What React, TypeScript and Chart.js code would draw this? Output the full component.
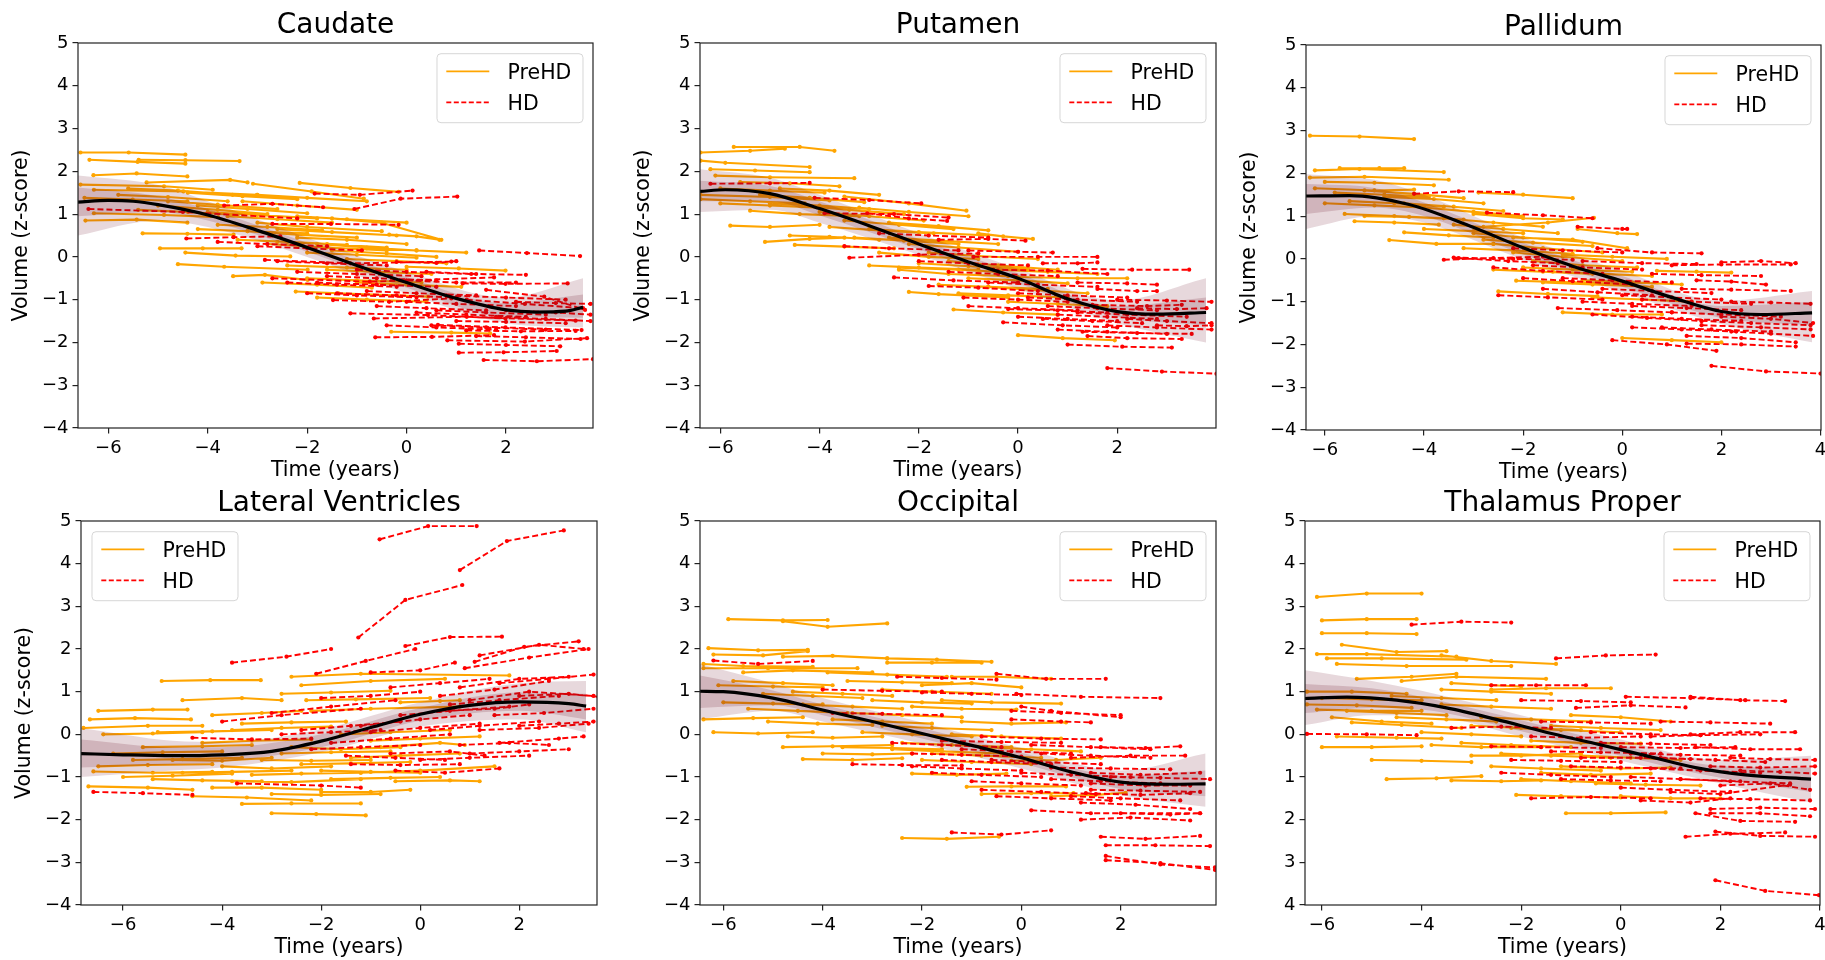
import React, { useEffect, useRef } from "react";
import { Chart, registerables } from "chart.js";
Chart.register(...registerables);
Chart.defaults.font.family = "'DejaVu Sans', sans-serif";
Chart.defaults.color = "#000";

// ---------- shared ticks ----------
const yTicks = [-4, -3, -2, -1, 0, 1, 2, 3, 4, 5];
const yTickLabels = ["−4", "−3", "−2", "−1", "0", "1", "2", "3", "4", "5"];
const yTickLabelsThalamus = ["4", "3", "2", "1", "0", "1", "2", "3", "4", "5"];
const xTicks = [-6, -4, -2, 0, 2];
const xTickLabels = ["−6", "−4", "−2", "0", "2"];
const xTicksWide = [-6, -4, -2, 0, 2, 4];
const xTickLabelsWide = ["−6", "−4", "−2", "0", "2", "4"];
const legendLabels = ["PreHD", "HD"];

// ---------- Caudate ----------
const caudateMeanX = [-6.61, -6, -5.5, -5, -4, -3, -2, -1, 0, 1, 2, 2.6, 3.2, 3.55];
const caudateMeanY = [1.28, 1.32, 1.3, 1.22, 0.98, 0.62, 0.22, -0.2, -0.6, -0.97, -1.24, -1.29, -1.27, -1.18];
const caudateBandX = [-6.61, -5, -4, -2, 0, 2, 3.55];
const caudateOuterLo = [0.5, 0.85, 0.7, 0.0, -0.85, -1.55, -1.65];
const caudateOuterHi = [1.9, 1.68, 1.3, 0.45, -0.35, -0.95, -0.5];
const caudateInnerLo = [0.95, 1.05, 0.85, 0.12, -0.72, -1.4, -1.42];
const caudateInnerHi = [1.62, 1.42, 1.12, 0.33, -0.47, -1.08, -0.88];
const caudatePreHD = [
  [-6.56, 2.44, -5.59, 2.44, -4.45, 2.39], [-6.38, 2.27, -5.41, 2.22, -4.45, 2.18], [-5.39, 2.27, -4.45, 2.26, -3.36, 2.24],
  [-6.3, 1.91, -5.43, 1.95, -4.41, 1.88], [-5.23, 1.74, -3.55, 1.8, -3.2, 1.74], [-2.15, 1.73, -1.13, 1.61, -0.16, 1.52],
  [-3.09, 1.71, -1.91, 1.53, -0.86, 1.36], [-6.56, 1.69, -4.88, 1.65, -3.9, 1.57], [-6.29, 1.57, -4.49, 1.53, -3.01, 1.45],
  [-6.48, 1.38, -5.51, 1.34, -4.41, 1.3], [-6.46, 0.85, -5.43, 0.87, -4.41, 0.8], [-6.29, 1.02, -4.88, 0.98, -3.79, 0.93],
  [-5.31, 0.55, -4.41, 0.54, -3.48, 0.52], [-4.96, 0.2, -4.1, 0.2, -3.32, 0.2], [-4.45, 0.1, -3.44, 0.03, -2.34, 0.01],
  [-4.6, -0.17, -3.67, -0.23, -1.99, -0.3], [-3.49, -0.45, -2.85, -0.42, -1.99, -0.54], [-0.31, -1.75, 0.9, -1.77, 1.68, -1.79],
  [0.0, -0.23, 1.05, -0.27, 1.99, -0.32], [-2.23, -0.81, -1.37, -0.85, 0.43, -0.93], [-4.2, 1.2, -3.2, 1.12, -2.0, 1.02],
  [-3.6, 0.95, -2.6, 0.88, -1.5, 0.8], [-3.0, 0.8, -2.0, 0.7, -0.5, 0.6], [-2.6, 0.65, -1.5, 0.58, -0.2, 0.5],
  [-2.2, 0.45, -1.2, 0.4, 0.0, 0.3], [-1.8, 0.3, -0.8, 0.22, 0.2, 0.15], [-1.5, 0.15, -0.4, 0.08, 0.6, 0.0],
  [-2.8, 0.3, -1.6, 0.22, -0.4, 0.15], [-1.2, -0.05, -0.2, -0.1, 0.8, -0.15], [-2.4, -0.2, -1.2, -0.25, 0.0, -0.3],
  [-3.4, 0.4, -2.4, 0.35, -1.2, 0.28], [-4.4, 1.5, -3.3, 1.42, -2.2, 1.35], [-5.0, 1.2, -3.8, 1.1, -2.8, 1.0],
  [-1.0, -0.6, 0.0, -0.65, 1.1, -0.7], [-3.3, 1.3, -2.2, 1.2, -1.0, 1.1], [-1.5, 0.9, -0.5, 0.8, 0.7, 0.4],
  [-0.35, 0.52, 0.2, 0.48, 0.66, 0.4], [-5.8, 1.45, -4.8, 1.4, -3.6, 1.3], [-2.0, -0.5, -1.0, -0.55, 0.3, -0.6],
  [-5.6, 1.6, -4.6, 1.55, -3.5, 1.45], [-4.8, 1.3, -3.8, 1.22, -2.6, 1.12], [-4.0, 1.05, -3.0, 0.98, -1.8, 0.9],
  [-3.8, 0.75, -2.8, 0.7, -1.7, 0.62], [-3.2, 0.6, -2.2, 0.52, -1.0, 0.45], [-2.6, 0.35, -1.6, 0.3, -0.4, 0.22],
  [-2.0, 0.1, -1.0, 0.05, 0.2, -0.02], [-1.6, -0.3, -0.6, -0.35, 0.5, -0.4], [-2.9, -0.6, -1.8, -0.65, -0.7, -0.72],
  [-4.2, 0.65, -3.2, 0.6, -2.0, 0.55], [-5.4, 1.1, -4.4, 1.05, -3.4, 0.98], [-3.0, 1.45, -2.0, 1.38, -0.8, 1.3],
  [-0.8, 0.2, 0.2, 0.15, 1.2, 0.1], [-2.2, 0.95, -1.2, 0.88, 0.0, 0.8], [-1.8, -0.95, -0.8, -1.0, 0.4, -1.05],
];
const caudateHD = [
  [-1.85, 1.48, -0.94, 1.45, 0.12, 1.55], [-1.05, 1.12, -0.12, 1.36, 1.02, 1.41], [-3.67, 1.2, -2.7, 1.24, -1.68, 1.16],
  [-6.4, 1.12, -4.5, 1.05, -2.2, 0.9], [-2.7, 0.77, -1.52, 0.77, -0.16, 0.75], [-4.43, 0.43, -3.48, 0.46, -2.54, 0.48],
  [1.46, 0.15, 2.42, 0.09, 3.49, 0.02], [-2.85, -0.07, -1.13, -0.15, 0.9, -0.11], [-2.7, -0.5, -0.74, -0.58, 1.76, -0.48],
  [1.13, -0.62, 1.99, -0.63, 3.24, -0.62], [-1.48, -1.01, -0.35, -1.05, 0.9, -0.97], [-1.13, -1.32, 0.43, -1.36, 1.99, -1.44],
  [-0.66, -1.44, 1.21, -1.4, 3.4, -1.49], [0.63, -1.59, 1.99, -1.65, 3.52, -1.71], [-0.63, -1.88, 0.51, -1.87, 1.76, -1.83],
  [0.82, -1.95, 2.38, -1.98, 3.63, -1.9], [1.05, -2.24, 1.95, -2.23, 3.02, -2.2], [1.55, -2.41, 2.62, -2.44, 3.75, -2.39],
  [1.05, -2.03, 2.0, -2.06, 3.09, -2.09], [1.21, -1.0, 2.38, -1.1, 3.55, -1.2], [1.6, -0.77, 2.77, -0.93, 3.59, -1.24],
  [1.2, -1.72, 2.3, -1.74, 3.4, -1.73], [-2.6, -0.1, -1.6, -0.15, -0.4, -0.2], [-2.2, -0.35, -1.0, -0.4, 0.3, -0.45],
  [-1.8, -0.6, -0.6, -0.65, 0.6, -0.7], [-1.4, -0.85, -0.2, -0.9, 1.0, -0.95], [-0.6, -1.15, 0.4, -1.2, 1.6, -1.25],
  [0.2, -1.3, 1.2, -1.35, 2.4, -1.4], [-3.0, 0.25, -2.0, 0.2, -0.9, 0.15], [-3.8, 0.35, -2.8, 0.3, -1.6, 0.25],
  [0.0, -0.55, 1.0, -0.6, 2.2, -0.6], [0.8, -0.9, 2.0, -0.95, 3.2, -1.0], [2.0, -1.25, 3.0, -1.3, 3.7, -1.35],
  [-1.0, -0.3, 0.0, -0.35, 1.3, -0.4], [0.5, -1.6, 1.6, -1.65, 2.8, -1.7], [-0.2, -0.12, 0.6, -0.14, 1.0, -0.1],
  [-2.4, -0.6, -1.4, -0.65, -0.2, -0.7], [-1.6, -0.45, -0.6, -0.5, 0.6, -0.55], [-0.8, -0.8, 0.2, -0.85, 1.4, -0.9],
  [0.0, -1.05, 1.0, -1.1, 2.2, -1.15], [0.6, -1.25, 1.6, -1.3, 2.8, -1.35], [1.0, -1.5, 2.0, -1.52, 3.2, -1.55],
  [1.8, -1.4, 2.8, -1.45, 3.7, -1.5], [-0.4, -1.6, 0.6, -1.65, 1.8, -1.7], [1.4, -1.85, 2.4, -1.88, 3.5, -1.92],
  [-2.0, -0.85, -1.0, -0.9, 0.2, -0.95], [2.2, -1.05, 3.0, -1.08, 3.7, -1.1], [0.4, -0.35, 1.4, -0.4, 2.4, -0.42],
];

// ---------- Putamen ----------
const putamenMeanX = [-6.41, -5.9, -5, -4, -3, -2, -1, 0, 1, 2, 2.8, 3.79];
const putamenMeanY = [1.53, 1.57, 1.48, 1.13, 0.73, 0.3, -0.12, -0.5, -0.98, -1.28, -1.34, -1.3];
const putamenBandX = [-6.41, -5, -4, -2, 0, 2, 3.79];
const putamenOuterLo = [1.05, 1.1, 0.8, 0.05, -0.75, -1.55, -2.0];
const putamenOuterHi = [2.05, 1.85, 1.45, 0.55, -0.28, -1.02, -0.5];
const putamenInnerLo = [1.3, 1.3, 0.97, 0.18, -0.62, -1.4, -1.6];
const putamenInnerHi = [1.78, 1.66, 1.3, 0.42, -0.38, -1.15, -0.95];
const putamenPreHD = [
  [-6.4, 2.44, -5.4, 2.48, -4.7, 2.53], [-5.73, 2.57, -4.4, 2.57, -3.7, 2.48], [-6.4, 2.25, -5.9, 2.2, -4.2, 2.1],
  [-6.2, 2.05, -5.3, 2.02, -4.2, 1.98], [-6.1, 1.9, -5.0, 1.86, -3.3, 1.84], [-6.4, 1.45, -5.0, 1.4, -3.8, 1.32],
  [-6.4, 1.35, -5.4, 1.3, -4.3, 1.25], [-5.8, 0.73, -5.0, 0.7, -4.0, 0.75], [-5.1, 0.35, -4.2, 0.42, -3.5, 0.45],
  [-4.6, 0.5, -3.8, 0.47, -2.8, 0.4], [-4.5, 0.28, -3.5, 0.24, -2.5, 0.2], [-5.4, 1.08, -4.4, 1.0, -3.2, 0.95],
  [-3.5, 1.41, -2.2, 1.25, -1.04, 1.08], [-2.2, -0.82, -1.6, -0.87, -0.2, -0.95], [-1.3, -1.23, -0.3, -1.3, 0.8, -1.35],
  [0.0, -1.83, 0.9, -1.9, 1.95, -1.95], [0.0, -0.47, 1.2, -0.5, 2.2, -0.5], [-4.0, 1.05, -3.0, 0.95, -1.9, 0.85],
  [-3.5, 0.85, -2.4, 0.75, -1.3, 0.65], [-3.0, 0.65, -2.0, 0.58, -0.6, 0.5], [-2.6, 0.45, -1.6, 0.38, -0.4, 0.3],
  [-2.2, 0.3, -1.2, 0.22, 0.0, 0.12], [-1.8, 0.1, -0.8, 0.02, 0.4, -0.05], [-1.4, -0.1, -0.4, -0.2, 0.8, -0.3],
  [-2.4, -0.3, -1.4, -0.4, -0.2, -0.45], [-1.0, -0.5, 0.0, -0.55, 1.0, -0.62], [-0.6, -0.7, 0.4, -0.78, 1.4, -0.85],
  [-2.8, 0.1, -1.8, 0.0, -0.8, -0.05], [-3.2, 1.15, -2.2, 1.05, -1.0, 0.95], [-4.8, 1.6, -3.8, 1.55, -2.8, 1.45],
  [-6.0, 1.6, -5.0, 1.55, -3.9, 1.5], [-5.6, 1.75, -4.6, 1.72, -3.6, 1.65], [-2.4, -0.25, -1.2, -0.3, -0.4, -0.35],
  [-0.8, 0.55, -0.3, 0.48, 0.3, 0.42],
  [-5.2, 1.45, -4.2, 1.38, -3.1, 1.28], [-4.4, 1.2, -3.4, 1.1, -2.3, 1.0], [-3.8, 0.7, -2.8, 0.62, -1.7, 0.55],
  [-3.3, 0.45, -2.3, 0.38, -1.2, 0.3], [-2.0, -0.15, -1.0, -0.22, 0.2, -0.28], [-1.6, -0.65, -0.6, -0.7, 0.6, -0.75],
  [-1.2, -0.85, -0.2, -0.9, 1.0, -0.95], [-5.0, 1.25, -4.0, 1.2, -3.0, 1.12], [-6.0, 1.25, -5.0, 1.2, -4.0, 1.15],
  [-2.6, 0.8, -1.6, 0.72, -0.6, 0.62], [-0.4, -0.3, 0.6, -0.35, 1.6, -0.4], [-0.2, -1.05, 0.8, -1.1, 1.8, -1.15],
  [-3.0, -0.2, -2.0, -0.25, -0.8, -0.3],
];
const putamenHD = [
  [-6.2, 1.71, -5.0, 1.72, -4.2, 1.73], [-4.1, 1.38, -3.0, 1.33, -1.95, 1.25], [-3.9, 1.02, -2.5, 1.0, -1.4, 0.92],
  [-3.04, 1.02, -2.2, 0.9, -1.43, 0.84], [-1.6, 0.4, -0.6, 0.42, 0.15, 0.38], [-3.5, 0.25, -2.6, 0.2, -1.2, 0.15],
  [-3.4, -0.02, -2.0, 0.05, -0.8, 0.08], [-1.0, 0.15, 0.0, 0.12, 0.7, 0.1], [-0.9, 0.0, 0.4, 0.0, 1.6, 0.0],
  [0.5, -0.15, 1.2, -0.15, 1.6, -0.13], [1.3, -0.28, 2.3, -0.3, 3.45, -0.3], [1.2, -0.6, 2.2, -0.62, 2.8, -0.65],
  [1.6, -0.75, 2.4, -0.8, 2.8, -0.8], [-1.8, -0.68, -0.8, -0.72, 0.4, -0.8], [-2.5, -0.48, -1.3, -0.55, 0.0, -0.6],
  [-1.1, -0.95, 0.0, -1.0, 1.0, -1.05], [-0.2, -1.22, 0.8, -1.25, 1.8, -1.3], [0.5, -1.45, 1.5, -1.5, 2.5, -1.55],
  [1.5, -1.12, 2.6, -1.15, 3.3, -1.12], [-0.3, -1.53, 0.9, -1.6, 2.0, -1.65], [1.3, -1.75, 2.4, -1.78, 3.5, -1.8],
  [1.0, -2.05, 2.1, -2.1, 3.1, -2.12], [1.4, -1.85, 2.2, -1.9, 3.3, -1.92], [1.8, -2.6, 2.9, -2.68, 4.0, -2.73],
  [2.2, -1.45, 3.0, -1.5, 3.9, -1.55], [2.4, -1.2, 3.2, -1.22, 3.8, -1.2], [0.8, -1.35, 1.8, -1.4, 2.8, -1.45],
  [-0.5, -0.3, 0.6, -0.32, 1.8, -0.4], [2.8, -1.6, 3.4, -1.62, 3.9, -1.6], [0.0, -0.85, 1.0, -0.9, 2.2, -0.95],
  [-2.0, -0.1, -1.0, -0.15, 0.2, -0.2], [-1.4, -0.35, -0.4, -0.4, 0.8, -0.45], [-0.6, -0.6, 0.4, -0.65, 1.6, -0.7],
  [0.2, -0.95, 1.2, -1.0, 2.4, -1.05], [0.6, -1.15, 1.6, -1.2, 2.8, -1.25], [1.2, -1.3, 2.2, -1.35, 3.4, -1.4],
  [1.8, -1.6, 2.8, -1.65, 3.9, -1.7], [0.0, -1.4, 1.0, -1.45, 2.0, -1.5], [2.0, -1.0, 3.0, -1.02, 3.9, -1.05],
  [-2.8, 0.55, -1.8, 0.5, -0.6, 0.45], [0.8, -1.7, 1.8, -1.75, 3.0, -1.8], [-1.0, -1.15, 0.0, -1.2, 1.2, -1.25],
];

// ---------- Pallidum ----------
const pallidumMeanX = [-6.38, -5.5, -4.3, -3.1, -2, -1, 0, 1, 2, 2.8, 3.83];
const pallidumMeanY = [1.47, 1.48, 1.27, 0.78, 0.26, -0.17, -0.52, -0.9, -1.23, -1.3, -1.26];
const pallidumBandX = [-6.38, -5, -4, -2, 0, 2, 3.83];
const pallidumOuterLo = [0.7, 1.0, 0.85, -0.02, -0.78, -1.52, -1.95];
const pallidumOuterHi = [1.98, 1.85, 1.5, 0.5, -0.28, -0.98, -0.75];
const pallidumInnerLo = [1.05, 1.2, 1.0, 0.1, -0.65, -1.38, -1.55];
const pallidumInnerHi = [1.75, 1.66, 1.32, 0.38, -0.4, -1.1, -1.0];
const pallidumPreHD = [
  [-6.3, 2.88, -5.3, 2.86, -4.2, 2.8], [-6.2, 2.07, -5.3, 2.1, -3.6, 2.03], [-5.7, 2.12, -4.9, 2.12, -4.4, 2.12],
  [-6.3, 1.9, -5.2, 1.92, -3.5, 1.85], [-6.0, 1.8, -5.0, 1.78, -3.8, 1.72], [-6.2, 1.65, -5.0, 1.6, -4.2, 1.62],
  [-5.5, 1.35, -4.6, 1.3, -3.6, 1.22], [-5.2, 1.0, -4.3, 0.98, -3.2, 0.92], [-5.4, 0.88, -4.6, 0.85, -3.7, 0.8],
  [-4.7, 0.44, -3.75, 0.35, -2.6, 0.35], [-4.4, 0.62, -3.5, 0.55, -2.6, 0.5], [-2.9, 1.55, -2.0, 1.5, -1.0, 1.42],
  [-3.0, 1.05, -2.0, 0.95, -1.2, 0.92], [-2.8, 0.75, -1.5, 0.85, -0.57, 0.96], [-0.9, 0.7, -0.1, 0.6, 0.3, 0.58],
  [-2.2, 0.5, -1.0, 0.45, 0.1, 0.25], [-2.5, -0.76, -1.5, -0.82, -0.5, -0.87], [-1.2, -1.25, -0.2, -1.3, 0.8, -1.3],
  [0.0, -1.85, 1.0, -1.9, 2.0, -1.95], [0.7, -0.28, 1.5, -0.3, 2.2, -0.32], [-4.0, 1.2, -3.0, 1.1, -2.0, 1.0],
  [-3.6, 0.95, -2.6, 0.85, -1.6, 0.75], [-3.0, 0.6, -2.0, 0.5, -0.8, 0.4], [-2.6, 0.35, -1.6, 0.25, -0.4, 0.15],
  [-2.2, 0.15, -1.2, 0.05, 0.0, -0.05], [-1.8, -0.05, -0.8, -0.15, 0.3, -0.2], [-1.4, -0.3, -0.4, -0.35, 0.6, -0.4],
  [-2.6, -0.25, -1.6, -0.3, -0.6, -0.35], [-0.8, -0.5, 0.2, -0.55, 1.2, -0.6], [-4.8, 1.45, -3.8, 1.4, -2.8, 1.3],
  [-5.8, 1.55, -4.8, 1.5, -3.9, 1.45], [-2.14, -0.51, -1.0, -0.55, 0.2, -0.6],
  [-5.2, 1.6, -4.2, 1.52, -3.2, 1.42], [-4.4, 1.3, -3.4, 1.22, -2.4, 1.12], [-3.4, 0.8, -2.4, 0.7, -1.3, 0.6],
  [-2.8, 0.45, -1.8, 0.38, -0.6, 0.3], [-2.0, -0.2, -1.0, -0.25, 0.2, -0.3], [-1.6, -0.55, -0.6, -0.6, 0.6, -0.65],
  [-6.0, 1.3, -5.0, 1.25, -4.0, 1.2], [-5.6, 1.05, -4.6, 1.0, -3.6, 0.95], [-1.2, 0.1, -0.2, 0.05, 0.9, 0.0],
  [-3.2, 0.25, -2.2, 0.2, -1.0, 0.12], [-0.6, -0.9, 0.4, -0.95, 1.4, -1.0], [-4.0, 0.7, -3.0, 0.65, -2.0, 0.6],
];
const pallidumHD = [
  [-4.2, 1.52, -3.3, 1.58, -2.2, 1.56], [-2.73, 1.08, -1.6, 1.02, -0.6, 0.95], [-0.9, 0.75, 0.0, 0.7, 0.1, 0.7],
  [-3.6, -0.02, -2.6, 0.02, -1.6, 0.05], [-3.4, 0.03, -2.2, 0.0, -1.0, -0.02], [-0.5, 0.25, 0.6, 0.15, 1.6, 0.13],
  [2.0, -0.08, 2.8, -0.05, 3.5, -0.1], [1.0, -0.15, 2.0, -0.13, 3.4, -0.13], [1.5, -0.5, 2.2, -0.53, 2.9, -0.6],
  [-2.6, -0.2, -1.6, -0.28, -0.4, -0.35], [-2.0, -0.45, -1.0, -0.52, 0.2, -0.6], [-1.6, -0.7, -0.5, -0.78, 0.6, -0.85],
  [-1.3, -1.15, -0.1, -1.2, 1.0, -1.25], [-0.6, -1.3, 0.5, -1.38, 1.6, -1.45], [0.2, -1.1, 1.3, -1.15, 2.4, -1.2],
  [0.2, -1.6, 1.2, -1.65, 2.3, -1.7], [-0.2, -1.9, 0.9, -2.0, 1.9, -2.15], [1.3, -1.8, 2.4, -1.85, 3.5, -1.95],
  [1.6, -1.55, 2.8, -1.6, 3.8, -1.65], [2.0, -1.35, 3.0, -1.4, 3.85, -1.5], [1.3, -1.98, 2.4, -2.0, 3.5, -2.05],
  [1.8, -2.5, 2.9, -2.63, 4.0, -2.68], [2.2, -1.0, 3.0, -1.02, 3.8, -1.05], [0.0, -0.85, 1.0, -0.9, 2.0, -0.95],
  [-0.8, -0.05, 0.4, -0.1, 1.5, -0.12], [0.6, -0.35, 1.6, -0.38, 2.8, -0.4], [-3.3, 0.02, -2.3, -0.05, -1.3, -0.1],
  [-2.5, -0.85, -1.5, -0.9, -0.4, -0.95],
  [-1.8, -0.15, -0.8, -0.2, 0.4, -0.25], [-1.2, -0.45, -0.2, -0.5, 1.0, -0.55], [-0.4, -0.7, 0.6, -0.75, 1.8, -0.8],
  [0.4, -0.95, 1.4, -1.0, 2.6, -1.05], [1.0, -1.25, 2.0, -1.3, 3.2, -1.35], [1.6, -1.45, 2.6, -1.5, 3.8, -1.55],
  [0.2, -1.35, 1.2, -1.4, 2.4, -1.45], [-0.8, -1.0, 0.2, -1.05, 1.4, -1.1], [2.2, -1.7, 3.0, -1.75, 3.85, -1.8],
  [0.8, -1.6, 1.8, -1.65, 3.0, -1.7], [-2.2, 0.25, -1.2, 0.2, 0.0, 0.15], [1.2, -0.7, 2.2, -0.72, 3.4, -0.75],
];

// ---------- Lateral Ventricles ----------
const ventMeanX = [-6.85, -6, -5, -4, -3, -2, -1, 0, 1, 2, 3, 3.35];
const ventMeanY = [-0.45, -0.48, -0.5, -0.48, -0.4, -0.16, 0.16, 0.47, 0.68, 0.76, 0.72, 0.66];
const ventBandX = [-6.85, -5, -4, -2, 0, 2, 3.35];
const ventOuterLo = [-1.0, -0.85, -0.78, -0.42, 0.18, 0.35, 0.05];
const ventOuterHi = [0.15, -0.15, -0.18, 0.12, 0.75, 1.2, 1.25];
const ventInnerLo = [-0.78, -0.7, -0.65, -0.3, 0.32, 0.55, 0.35];
const ventInnerHi = [-0.12, -0.3, -0.3, 0.0, 0.62, 0.98, 0.95];
const ventPreHD = [
  [-6.67, 0.35, -5.76, 0.38, -4.63, 0.35], [-6.5, 0.55, -5.4, 0.58, -4.7, 0.58], [-6.8, 0.15, -5.5, 0.2, -4.4, 0.2],
  [-5.22, 1.25, -4.24, 1.27, -3.22, 1.27], [-4.8, 0.8, -3.6, 0.85, -2.8, 0.8], [-2.4, 1.15, -1.0, 1.25, 0.5, 1.3],
  [-2.6, 1.35, -1.2, 1.42, 1.8, 1.38], [-2.8, 0.95, -1.8, 0.98, -0.6, 1.02], [-2.3, 0.8, -1.3, 0.82, 0.2, 0.85],
  [-2.2, 0.55, -1.0, 0.6, 0.8, 0.65], [-4.2, 0.45, -3.2, 0.5, -2.4, 0.55], [-5.3, 0.05, -4.2, 0.07, -3.0, 0.1],
  [-6.5, -0.75, -5.5, -0.72, -4.2, -0.7], [-6.6, -0.87, -5.4, -0.9, -4.2, -0.88], [-6.0, -1.0, -5.0, -0.97, -3.8, -0.92],
  [-6.7, -1.22, -5.5, -1.25, -4.6, -1.3], [-4.6, -1.45, -3.5, -1.48, -2.2, -1.55], [-3.6, -1.63, -2.6, -1.62, -1.2, -1.62],
  [-3.0, -1.85, -2.1, -1.87, -1.1, -1.9], [-3.8, -1.1, -2.6, -1.12, -1.2, -1.05], [-4.2, -1.25, -3.2, -1.25, -2.0, -1.3],
  [-2.0, -1.35, -1.0, -1.35, -0.2, -1.3], [-0.5, -1.1, 0.6, -1.08, 1.2, -1.1], [-1.2, -0.9, 0.0, -0.85, 1.5, -0.75],
  [-0.8, -0.3, 0.4, -0.2, 0.9, -0.25], [-2.0, -0.85, -1.0, -0.88, 0.0, -0.9], [-3.2, -0.6, -2.2, -0.62, -1.0, -0.6],
  [-4.0, -0.75, -3.0, -0.8, -1.8, -0.75], [-2.6, -0.3, -1.6, -0.35, -0.4, -0.3], [-1.6, 0.0, -0.6, 0.05, 0.6, 0.1],
  [-5.6, -0.3, -4.4, -0.28, -3.4, -0.25], [-3.6, 0.25, -2.6, 0.28, -1.5, 0.3], [-0.4, 0.75, 0.4, 0.78, 0.8, 0.8],
  [-1.8, -1.05, -0.6, -1.02, 0.4, -1.0], [-5.0, -0.6, -4.0, -0.62, -3.0, -0.55],
  [-6.2, -0.45, -5.2, -0.42, -4.0, -0.4], [-5.8, -0.6, -4.8, -0.58, -3.6, -0.55], [-4.8, -0.9, -3.8, -0.88, -2.6, -0.85],
  [-3.4, -0.95, -2.4, -0.92, -1.2, -0.9], [-2.8, -0.45, -1.8, -0.42, -0.6, -0.4], [-2.4, -0.7, -1.4, -0.68, -0.2, -0.65],
  [-1.4, -0.55, -0.4, -0.5, 0.8, -0.45], [-3.0, -1.4, -2.0, -1.42, -0.8, -1.4], [-5.4, -1.05, -4.4, -1.08, -3.2, -1.1],
  [-4.4, -0.2, -3.4, -0.15, -2.2, -0.12], [-6.4, 0.0, -5.4, 0.02, -4.4, 0.05], [-1.0, -0.15, 0.0, -0.1, 1.2, -0.05],
  [-3.8, 0.1, -2.8, 0.15, -1.8, 0.18],
];
const ventHD = [
  [-0.82, 4.57, 0.16, 4.88, 1.14, 4.88], [0.8, 3.85, 1.75, 4.53, 2.9, 4.78], [-1.25, 2.27, -0.3, 3.15, 0.85, 3.5],
  [-3.8, 1.68, -2.7, 1.82, -1.8, 2.0], [-0.3, 2.07, 0.6, 2.28, 1.65, 2.29], [-2.1, 1.42, -1.1, 1.72, -0.1, 2.0],
  [1.1, 1.7, 2.1, 2.05, 3.2, 2.18], [1.2, 1.85, 2.4, 2.1, 3.3, 2.0], [0.9, 1.55, 2.2, 1.8, 3.4, 2.0],
  [-1.0, 1.45, 0.0, 1.5, 0.7, 1.68], [0.8, 1.1, 2.0, 1.3, 3.0, 1.35], [1.0, 0.8, 2.2, 1.0, 3.5, 0.9],
  [0.4, 0.55, 1.5, 0.6, 2.2, 0.7], [1.2, 0.1, 2.4, 0.15, 3.4, 0.25], [1.6, -0.2, 2.8, -0.1, 3.3, -0.05],
  [0.8, -0.25, 1.8, -0.2, 2.6, -0.25], [-6.6, -1.35, -5.6, -1.38, -4.6, -1.42], [-3.7, -1.15, -2.0, -1.2, -1.2, -1.25],
  [-4.6, -0.08, -3.4, -0.12, -2.2, -0.1], [-4.0, 0.3, -2.8, 0.45, -1.2, 0.6], [-3.0, 0.5, -1.8, 0.65, -0.5, 0.8],
  [-2.4, 0.1, -1.4, 0.2, -0.4, 0.3], [-1.8, -0.2, -0.6, -0.1, 0.6, 0.0], [-1.2, 0.2, 0.0, 0.35, 1.0, 0.45],
  [-0.6, -0.45, 0.6, -0.4, 1.3, -0.5], [-0.5, -0.85, 0.5, -0.9, 1.6, -0.8], [-1.5, -0.5, -0.5, -0.55, 0.5, -0.6],
  [0.4, 0.9, 1.5, 1.05, 2.6, 1.25], [-2.0, 0.85, -1.0, 0.9, 0.0, 1.0], [1.5, 0.45, 2.5, 0.5, 3.5, 0.6],
  [2.0, 0.9, 3.0, 0.95, 3.6, 0.88],
  [-1.0, 0.05, 0.0, 0.15, 1.2, 0.25], [-0.4, 0.45, 0.6, 0.55, 1.8, 0.65], [0.2, 0.1, 1.2, 0.2, 2.4, 0.3],
  [0.6, 0.7, 1.6, 0.8, 2.8, 0.9], [1.6, 1.2, 2.6, 1.3, 3.5, 1.4], [1.0, -0.45, 2.0, -0.4, 3.0, -0.35],
  [-2.2, -0.35, -1.2, -0.3, 0.0, -0.25], [-1.4, -0.7, -0.4, -0.72, 0.8, -0.7], [0.0, -0.6, 1.0, -0.55, 2.2, -0.5],
  [2.0, 0.2, 2.8, 0.25, 3.5, 0.3], [-0.6, 1.1, 0.4, 1.2, 1.4, 1.3], [-2.8, 0.0, -1.8, 0.05, -0.8, 0.1],
];

// ---------- Occipital ----------
const occMeanX = [-6.47, -6, -5, -4, -3, -2, -1, 0, 1, 2, 3, 3.71];
const occMeanY = [1.01, 1.0, 0.85, 0.57, 0.3, 0.02, -0.26, -0.55, -0.88, -1.12, -1.17, -1.16];
const occBandX = [-6.47, -5, -4, -2, 0, 2, 3.71];
const occOuterLo = [0.35, 0.55, 0.3, -0.22, -0.8, -1.42, -1.7];
const occOuterHi = [1.65, 1.2, 0.85, 0.28, -0.32, -0.85, -0.45];
const occInnerLo = [0.62, 0.68, 0.45, -0.1, -0.68, -1.28, -1.45];
const occInnerHi = [1.38, 1.03, 0.7, 0.15, -0.43, -0.97, -0.85];
const occPreHD = [
  [-5.9, 2.7, -4.8, 2.67, -3.9, 2.68], [-4.8, 2.65, -3.9, 2.52, -2.7, 2.6], [-6.3, 2.02, -5.3, 1.97, -4.3, 1.98],
  [-6.2, 1.87, -5.2, 1.85, -4.3, 1.95], [-4.8, 1.82, -3.8, 1.84, -2.7, 1.78], [-2.7, 1.78, -1.7, 1.75, -0.6, 1.7],
  [-2.7, 1.68, -1.8, 1.68, -0.8, 1.68], [-6.4, 1.65, -5.6, 1.6, -4.2, 1.58], [-6.4, 1.55, -5.1, 1.55, -3.3, 1.55],
  [-5.6, 1.45, -4.6, 1.5, -3.0, 1.45], [-3.9, 1.45, -2.7, 1.4, -1.5, 1.35], [-6.1, 1.15, -5.0, 1.12, -4.0, 1.1],
  [-3.5, 1.25, -2.4, 1.22, -1.4, 1.2], [-1.4, 1.35, -0.5, 1.35, 0.6, 1.3], [-2.0, 1.15, -1.0, 1.2, 0.0, 1.1],
  [-6.4, 0.35, -5.4, 0.38, -4.4, 0.4], [-6.2, 0.05, -5.3, 0.02, -4.2, 0.05], [-5.1, 0.3, -4.1, 0.25, -3.0, 0.22],
  [-4.7, -0.05, -3.8, -0.08, -2.8, -0.05], [-4.8, -0.3, -3.8, -0.28, -2.6, -0.25], [-4.4, -0.58, -3.4, -0.6, -2.4, -0.56],
  [-4.0, -0.45, -3.0, -0.47, -2.2, -0.45], [-2.2, -0.92, -1.3, -0.95, -0.3, -0.92], [-2.4, -2.43, -1.5, -2.45, -0.45, -2.4],
  [-1.1, -1.23, -0.2, -1.22, 0.9, -1.22], [-0.8, -1.4, 0.2, -1.38, 1.05, -1.38], [0.6, -1.45, 1.5, -1.42, 2.1, -1.37],
  [-2.2, 0.65, -1.2, 0.6, -0.1, 0.58], [-1.6, 0.8, -0.6, 0.75, 0.8, 0.72], [-3.0, 0.8, -2.0, 0.75, -1.0, 0.72],
  [-3.4, 0.5, -2.4, 0.45, -1.2, 0.4], [-2.8, 0.2, -1.8, 0.15, -0.6, 0.1], [-2.4, -0.2, -1.4, -0.25, -0.2, -0.3],
  [-1.8, -0.45, -0.8, -0.5, 0.4, -0.55], [-1.2, 0.3, -0.2, 0.25, 0.9, 0.28], [-0.2, -0.62, 0.7, -0.6, 1.6, -0.55],
  [-4.6, 1.0, -3.6, 0.95, -2.6, 0.9], [-5.5, 0.6, -4.5, 0.55, -3.5, 0.5],
  [-5.8, 1.25, -4.8, 1.2, -3.8, 1.15], [-5.2, 0.95, -4.2, 0.9, -3.2, 0.85], [-4.4, 0.7, -3.4, 0.65, -2.4, 0.6],
  [-3.8, 0.35, -2.8, 0.3, -1.8, 0.25], [-3.2, 0.05, -2.2, 0.0, -1.0, -0.05], [-2.6, -0.35, -1.6, -0.4, -0.4, -0.45],
  [-2.0, -0.6, -1.0, -0.65, 0.2, -0.7], [-6.0, 0.75, -5.0, 0.72, -4.0, 0.7], [-1.4, 0.0, -0.4, -0.05, 0.8, -0.1],
  [-0.8, -0.3, 0.2, -0.35, 1.2, -0.4], [-2.8, 1.05, -1.8, 1.0, -0.6, 0.95], [-3.6, -0.3, -2.6, -0.32, -1.6, -0.35],
];
const occHD = [
  [-6.2, 1.73, -5.3, 1.65, -4.2, 1.72], [-2.5, 1.35, -1.6, 1.32, -0.5, 1.28], [-0.5, 1.42, 0.5, 1.3, 1.7, 1.3],
  [-4.0, 1.05, -2.8, 1.02, -1.6, 1.0], [-2.0, 0.98, -1.0, 0.95, 0.0, 0.92], [-0.1, 0.95, 1.2, 0.88, 2.8, 0.85],
  [0.0, 0.65, 0.6, 0.55, 2.0, 0.4], [-0.2, 0.35, 0.8, 0.3, 1.4, 0.28], [-3.4, -0.7, -2.4, -0.72, -1.2, -0.73],
  [-2.2, -0.45, -1.2, -0.48, 0.0, -0.52], [-1.6, -0.15, -0.4, -0.18, 0.8, -0.2], [-0.8, -0.05, 0.4, -0.1, 1.6, -0.12],
  [0.2, -0.25, 1.4, -0.3, 2.6, -0.35], [1.6, -0.3, 2.5, -0.32, 3.2, -0.28], [1.0, -0.55, 2.2, -0.5, 3.3, -0.5],
  [0.6, -0.78, 1.8, -0.8, 3.0, -0.82], [1.4, -0.9, 2.4, -0.95, 3.6, -0.9], [-0.8, -1.3, 0.4, -1.35, 1.5, -1.4],
  [-0.5, -1.45, 0.6, -1.5, 1.8, -1.55], [1.4, -1.15, 2.5, -1.2, 3.4, -1.2], [1.3, -1.38, 2.4, -1.42, 3.4, -1.38],
  [1.2, -1.6, 2.3, -1.65, 3.4, -1.75], [0.2, -1.78, 1.4, -1.85, 3.6, -1.85], [1.2, -2.0, 2.2, -1.95, 3.4, -2.02],
  [-1.4, -2.3, -0.4, -2.35, 0.6, -2.25], [1.6, -2.4, 2.5, -2.45, 3.6, -2.38], [1.7, -2.6, 2.7, -2.6, 3.8, -2.62],
  [1.7, -2.85, 2.8, -3.05, 3.9, -3.12], [1.7, -2.95, 2.8, -3.02, 3.9, -3.18], [-2.2, -0.75, -1.2, -0.8, 0.0, -0.85],
  [-1.6, -0.6, -0.6, -0.65, 0.6, -0.7], [-3.8, 0.5, -2.8, 0.48, -1.6, 0.45], [2.0, -1.85, 3.0, -1.88, 3.6, -1.85],
  [-1.2, -0.35, -0.2, -0.4, 1.0, -0.45], [-0.6, -0.6, 0.4, -0.65, 1.6, -0.7], [0.0, -0.9, 1.0, -0.95, 2.2, -1.0],
  [0.6, -1.05, 1.6, -1.1, 2.8, -1.15], [1.4, -1.3, 2.4, -1.32, 3.6, -1.35], [-1.8, -0.9, -0.8, -0.95, 0.4, -1.0],
  [-1.0, -1.1, 0.0, -1.15, 1.2, -1.2], [1.0, -1.45, 2.0, -1.5, 3.2, -1.55], [0.4, -0.45, 1.4, -0.5, 2.6, -0.55],
  [-2.6, -0.2, -1.6, -0.25, -0.4, -0.3], [1.8, -1.0, 2.8, -1.02, 3.8, -1.05], [-0.2, 0.55, 0.8, 0.5, 2.0, 0.45],
];

// ---------- Thalamus Proper ----------
const thalMeanX = [-6.34, -5.5, -4.5, -3.5, -2.5, -1.5, -0.5, 0.5, 1.5, 2.5, 3.82];
const thalMeanY = [0.84, 0.87, 0.8, 0.62, 0.35, 0.05, -0.22, -0.5, -0.78, -0.95, -1.05];
const thalBandX = [-6.34, -5, -4, -2, 0, 2, 3.82];
const thalOuterLo = [0.22, 0.45, 0.45, -0.05, -0.62, -1.15, -1.6];
const thalOuterHi = [1.5, 1.25, 1.02, 0.45, -0.12, -0.6, -0.5];
const thalInnerLo = [0.5, 0.62, 0.58, 0.07, -0.5, -1.02, -1.35];
const thalInnerHi = [1.18, 1.08, 0.88, 0.33, -0.25, -0.74, -0.78];
const thalPreHD = [
  [-6.1, 3.22, -5.1, 3.3, -4.0, 3.3], [-6.0, 2.67, -5.1, 2.7, -4.1, 2.7], [-6.0, 2.37, -5.1, 2.37, -4.1, 2.35],
  [-5.6, 2.1, -4.5, 1.93, -3.5, 1.95], [-6.1, 1.88, -5.1, 1.88, -3.3, 1.82], [-5.9, 1.78, -4.8, 1.78, -3.1, 1.75],
  [-5.7, 1.65, -4.3, 1.6, -2.2, 1.6], [-3.6, 1.85, -2.6, 1.72, -1.3, 1.65], [-5.3, 1.3, -4.2, 1.35, -3.3, 1.42],
  [-4.4, 1.25, -3.3, 1.35, -1.5, 1.3], [-3.4, 1.2, -2.6, 1.15, -2.0, 1.12], [-2.6, 1.05, -1.5, 1.08, -0.2, 1.08],
  [-6.3, 1.0, -5.4, 1.0, -4.3, 0.95], [-6.1, 0.58, -5.0, 0.55, -4.0, 0.55], [-5.8, 0.4, -4.8, 0.3, -3.8, 0.25],
  [-5.4, 0.28, -4.4, 0.22, -3.2, 0.15], [-6.0, -0.3, -5.0, -0.3, -4.0, -0.28], [-5.7, -0.05, -4.5, -0.08, -3.6, -0.1],
  [-4.7, -1.05, -3.7, -1.03, -2.8, -0.98], [-3.4, -1.08, -2.4, -1.1, -1.6, -1.08], [-2.1, -1.42, -1.2, -1.45, 0.0, -1.48],
  [-1.1, -1.85, -0.2, -1.85, 0.9, -1.83], [0.0, -1.45, 1.0, -1.5, 2.0, -1.5], [-2.4, -0.45, -1.4, -0.5, -0.2, -0.55],
  [-3.0, -0.5, -2.0, -0.5, -0.8, -0.45], [-2.8, 0.4, -1.8, 0.35, -0.6, 0.3], [-2.2, 0.15, -1.2, 0.1, 0.0, 0.05],
  [-1.8, -0.15, -0.8, -0.2, 0.4, -0.22], [-1.2, -0.75, 0.0, -0.8, 1.0, -0.78], [-0.5, -1.15, 0.5, -1.18, 1.6, -1.2],
  [-3.6, 0.7, -2.6, 0.65, -1.4, 0.6], [-4.6, 0.9, -3.6, 0.85, -2.5, 0.8], [-3.8, -0.25, -2.8, -0.3, -1.6, -0.3],
  [-1.0, 0.45, 0.0, 0.4, 1.0, 0.3], [-1.6, -0.9, -0.6, -0.95, 0.6, -0.92], [-6.3, 0.7, -5.3, 0.68, -4.2, 0.62],
  [-6.0, 0.85, -5.0, 0.82, -4.0, 0.8], [-5.5, 0.55, -4.5, 0.5, -3.5, 0.45], [-4.5, 0.4, -3.5, 0.35, -2.5, 0.3],
  [-4.0, 0.05, -3.0, 0.0, -2.0, -0.05], [-3.2, -0.2, -2.2, -0.25, -1.0, -0.3], [-2.6, -0.75, -1.6, -0.8, -0.4, -0.85],
  [-2.0, -1.05, -1.0, -1.1, 0.2, -1.15], [-1.4, 0.2, -0.4, 0.15, 0.8, 0.1], [-3.6, 1.05, -2.6, 1.0, -1.4, 0.95],
  [-0.8, -0.5, 0.2, -0.55, 1.2, -0.6], [-5.0, -0.6, -4.0, -0.62, -3.0, -0.65], [-3.0, 0.2, -2.0, 0.15, -0.8, 0.1],
];
const thalHD = [
  [-4.2, 2.57, -3.2, 2.64, -2.2, 2.62], [-1.3, 1.78, -0.3, 1.85, 0.7, 1.87], [-6.3, 0.01, -5.1, 0.0, -4.1, -0.02],
  [-2.6, 1.15, -1.7, 1.15, -0.7, 1.15], [-2.0, 0.8, -0.8, 0.78, 0.2, 0.75], [-0.9, 0.62, 0.2, 0.68, 1.3, 0.63],
  [0.1, 0.88, 1.4, 0.85, 2.5, 0.8], [1.4, 0.88, 2.4, 0.8, 3.3, 0.78], [-3.4, 0.15, -2.4, 0.18, -1.4, 0.15],
  [-2.6, -0.28, -1.6, -0.3, -0.4, -0.32], [-1.8, -0.05, -0.8, -0.08, 0.4, -0.05], [-0.6, 0.05, 0.6, 0.0, 1.6, -0.02],
  [0.6, -0.05, 1.6, -0.02, 2.8, 0.0], [1.4, 0.0, 2.4, 0.05, 3.5, 0.05], [0.0, -0.3, 1.2, -0.32, 2.3, -0.3],
  [1.5, -0.3, 2.6, -0.35, 3.6, -0.35], [-0.8, -0.55, 0.4, -0.55, 1.4, -0.58], [0.8, -0.55, 1.9, -0.6, 2.9, -0.65],
  [1.8, -0.75, 2.8, -0.78, 3.9, -0.75], [-2.4, -0.9, -1.4, -0.95, -0.2, -1.0], [-1.2, -1.05, -0.2, -1.08, 0.8, -1.1],
  [0.2, -1.0, 1.2, -1.05, 2.4, -1.1], [1.0, -1.35, 2.0, -1.4, 3.4, -1.18], [-1.8, -1.5, -0.6, -1.47, 0.6, -1.5],
  [0.4, -1.55, 1.4, -1.6, 2.2, -1.5], [1.5, -1.85, 2.4, -2.03, 3.5, -2.05], [1.8, -1.75, 2.8, -1.72, 3.9, -1.75],
  [1.8, -1.85, 2.8, -1.85, 3.8, -1.92], [1.3, -2.4, 2.2, -2.33, 3.3, -2.3], [1.9, -2.28, 2.8, -2.38, 3.9, -2.4],
  [1.9, -3.42, 2.9, -3.67, 3.98, -3.77], [2.4, -0.85, 3.2, -0.88, 3.9, -0.92], [2.0, -1.2, 3.0, -1.15, 3.8, -1.3],
  [-0.4, -0.2, 0.6, -0.22, 1.8, -0.25], [0.2, -0.45, 1.2, -0.48, 2.4, -0.5], [-1.4, -0.4, -0.4, -0.42, 0.8, -0.45],
  [-1.0, -0.75, 0.0, -0.78, 1.2, -0.8], [0.6, -0.8, 1.6, -0.85, 2.8, -0.9], [1.2, -1.05, 2.2, -1.1, 3.4, -1.15],
  [0.0, -1.25, 1.0, -1.3, 2.2, -1.35], [1.6, -1.5, 2.6, -1.52, 3.8, -1.55], [-1.6, 0.3, -0.6, 0.28, 0.6, 0.25],
  [0.8, 0.3, 1.8, 0.28, 3.0, 0.25], [2.2, -0.55, 3.0, -0.58, 3.9, -0.6], [-2.2, -0.6, -1.2, -0.62, 0.0, -0.65],
];

// ---------- panel specs (layout only) ----------
const panels = [
  { title: "Caudate", left: 78, right: 593, top: 43, bottom: 428, xMin: -6.61, xMax: 3.75, xT: xTicks, xL: xTickLabels, yL: yTickLabels, yTitle: true, legendLeft: false,
    mx: caudateMeanX, my: caudateMeanY, bx: caudateBandX, oLo: caudateOuterLo, oHi: caudateOuterHi, iLo: caudateInnerLo, iHi: caudateInnerHi, pre: caudatePreHD, hd: caudateHD },
  { title: "Putamen", left: 700, right: 1216, top: 43, bottom: 428, xMin: -6.41, xMax: 3.99, xT: xTicks, xL: xTickLabels, yL: yTickLabels, yTitle: true, legendLeft: false,
    mx: putamenMeanX, my: putamenMeanY, bx: putamenBandX, oLo: putamenOuterLo, oHi: putamenOuterHi, iLo: putamenInnerLo, iHi: putamenInnerHi, pre: putamenPreHD, hd: putamenHD },
  { title: "Pallidum", left: 1306, right: 1821, top: 45, bottom: 430, xMin: -6.38, xMax: 4.01, xT: xTicksWide, xL: xTickLabelsWide, yL: yTickLabels, yTitle: true, legendLeft: false,
    mx: pallidumMeanX, my: pallidumMeanY, bx: pallidumBandX, oLo: pallidumOuterLo, oHi: pallidumOuterHi, iLo: pallidumInnerLo, iHi: pallidumInnerHi, pre: pallidumPreHD, hd: pallidumHD },
  { title: "Lateral Ventricles", left: 81, right: 597, top: 521, bottom: 905, xMin: -6.85, xMax: 3.57, xT: xTicks, xL: xTickLabels, yL: yTickLabels, yTitle: true, legendLeft: true,
    mx: ventMeanX, my: ventMeanY, bx: ventBandX, oLo: ventOuterLo, oHi: ventOuterHi, iLo: ventInnerLo, iHi: ventInnerHi, pre: ventPreHD, hd: ventHD },
  { title: "Occipital", left: 700, right: 1216, top: 521, bottom: 905, xMin: -6.47, xMax: 3.92, xT: xTicks, xL: xTickLabels, yL: yTickLabels, yTitle: false, legendLeft: false,
    mx: occMeanX, my: occMeanY, bx: occBandX, oLo: occOuterLo, oHi: occOuterHi, iLo: occInnerLo, iHi: occInnerHi, pre: occPreHD, hd: occHD },
  { title: "Thalamus Proper", left: 1305, right: 1820, top: 521, bottom: 905, xMin: -6.34, xMax: 4.0, xT: xTicksWide, xL: xTickLabelsWide, yL: yTickLabelsThalamus, yTitle: false, legendLeft: false,
    mx: thalMeanX, my: thalMeanY, bx: thalBandX, oLo: thalOuterLo, oHi: thalOuterHi, iLo: thalInnerLo, iHi: thalInnerHi, pre: thalPreHD, hd: thalHD },
];

const Y_AXIS_W = 77;
const X_AXIS_H = 58;
const PAD_TOP = 45;
const PAD_RIGHT = 20;
const ORANGE = "#ffa500";
const RED = "#ff0000";
const BAND = "rgba(105,15,35,0.16)";
const BAND_IN = "rgba(105,15,35,0.18)";

function xy(xs: number[], ys: number[]) {
  return xs.map((x, i) => ({ x, y: ys[i] }));
}
function trajPoints(list: number[][]) {
  const pts: { x: number; y: number | null }[] = [];
  for (const t of list) {
    for (let i = 0; i < t.length; i += 2) pts.push({ x: t[i], y: t[i + 1] });
    pts.push({ x: t[t.length - 2], y: null });
  }
  return pts;
}

function Panel({ spec }: { spec: any }) {
  const ref = useRef<HTMLCanvasElement | null>(null);
  const w = spec.right - spec.left + Y_AXIS_W + PAD_RIGHT;
  const h = spec.bottom - spec.top + PAD_TOP + X_AXIS_H;

  useEffect(() => {
    if (!ref.current) return;
    const decor = {
      id: "decor",
      afterDatasetsDraw(chart: any) {
        const { ctx, chartArea: a } = chart;
        ctx.save();
        ctx.setLineDash([]);
        ctx.strokeStyle = "#222";
        ctx.lineWidth = 1.2;
        ctx.strokeRect(a.left, a.top, a.right - a.left, a.bottom - a.top);
        // legend
        const bw = 146, bh = 69, r = 4;
        const bx = spec.legendLeft ? a.left + 11 : a.right - 10 - bw;
        const by = a.top + 10.7;
        ctx.beginPath();
        ctx.moveTo(bx + r, by);
        ctx.lineTo(bx + bw - r, by);
        ctx.arcTo(bx + bw, by, bx + bw, by + r, r);
        ctx.lineTo(bx + bw, by + bh - r);
        ctx.arcTo(bx + bw, by + bh, bx + bw - r, by + bh, r);
        ctx.lineTo(bx + r, by + bh);
        ctx.arcTo(bx, by + bh, bx, by + bh - r, r);
        ctx.lineTo(bx, by + r);
        ctx.arcTo(bx, by, bx + r, by, r);
        ctx.closePath();
        ctx.fillStyle = "rgba(255,255,255,0.8)";
        ctx.fill();
        ctx.strokeStyle = "rgba(204,204,204,0.8)";
        ctx.lineWidth = 1;
        ctx.stroke();
        const rows = [by + 17.7, by + 48.7];
        const cols = [ORANGE, RED];
        const dashes = [[], [5, 2.5]];
        ctx.font = "20.5px 'DejaVu Sans'";
        ctx.textAlign = "left";
        ctx.textBaseline = "alphabetic";
        for (let i = 0; i < 2; i++) {
          ctx.beginPath();
          ctx.setLineDash(dashes[i]);
          ctx.strokeStyle = cols[i];
          ctx.lineWidth = 1.8;
          ctx.moveTo(bx + 9.3, rows[i]);
          ctx.lineTo(bx + 52.3, rows[i]);
          ctx.stroke();
          ctx.setLineDash([]);
          ctx.fillStyle = "#000";
          ctx.fillText(legendLabels[i], bx + 70.6, rows[i] + 7.4);
        }
        // title
        ctx.font = "28px 'DejaVu Sans'";
        ctx.textAlign = "center";
        ctx.fillStyle = "#000";
        ctx.fillText(spec.title, (a.left + a.right) / 2, a.top - 10);
        ctx.restore();
      },
    };

    const chart = new Chart(ref.current, {
      type: "line",
      data: {
        datasets: [
          { label: "mean", data: xy(spec.mx, spec.my), borderColor: "#000", borderWidth: 3.2, pointRadius: 0, cubicInterpolationMode: "monotone", fill: false, order: 0, clip: 0 },
          { label: "HD", data: trajPoints(spec.hd), borderColor: RED, borderWidth: 1.9, borderDash: [6, 3], pointRadius: 2.1, pointBackgroundColor: RED, pointBorderWidth: 0, fill: false, spanGaps: false, order: 2, clip: 0 },
          { label: "PreHD", data: trajPoints(spec.pre), borderColor: ORANGE, borderWidth: 2.1, pointRadius: 2.1, pointBackgroundColor: ORANGE, pointBorderWidth: 0, fill: false, spanGaps: false, order: 3, clip: 0 },
          { label: "outerHi", data: xy(spec.bx, spec.oHi), borderColor: "rgba(0,0,0,0)", borderWidth: 1, pointRadius: 0, cubicInterpolationMode: "monotone", fill: 4, backgroundColor: BAND, order: 1, clip: 0 },
          { label: "outerLo", data: xy(spec.bx, spec.oLo), borderColor: "rgba(0,0,0,0)", borderWidth: 1, pointRadius: 0, cubicInterpolationMode: "monotone", fill: false, order: 1, clip: 0 },
          { label: "innerHi", data: xy(spec.bx, spec.iHi), borderColor: "rgba(0,0,0,0)", borderWidth: 1, pointRadius: 0, cubicInterpolationMode: "monotone", fill: 6, backgroundColor: BAND_IN, order: 1, clip: 0 },
          { label: "innerLo", data: xy(spec.bx, spec.iLo), borderColor: "rgba(0,0,0,0)", borderWidth: 1, pointRadius: 0, cubicInterpolationMode: "monotone", fill: false, order: 1, clip: 0 },
        ],
      },
      options: {
        responsive: false,
        animation: false,
        devicePixelRatio: 1,
        events: [],
        layout: { padding: { top: PAD_TOP, right: PAD_RIGHT, left: 0, bottom: 0 } },
        plugins: { legend: { display: false }, tooltip: { enabled: false }, title: { display: false } },
        scales: {
          x: {
            type: "linear",
            min: spec.xMin,
            max: spec.xMax,
            afterBuildTicks: (s: any) => { s.ticks = spec.xT.map((v: number) => ({ value: v })); },
            afterFit: (s: any) => { s.height = X_AXIS_H; },
            ticks: { font: { size: 18 }, color: "#000", padding: 3.7, autoSkip: false, maxRotation: 0, callback: (_v: any, i: number) => spec.xL[i] },
            grid: { display: true, drawOnChartArea: false, drawTicks: true, tickLength: 5.5, color: "#222", tickColor: "#222", lineWidth: 1.2, tickWidth: 1.2 },
            border: { display: false },
            title: { display: true, text: "Time (years)", font: { size: 20.5 }, color: "#000", padding: { top: 0, bottom: 3.4 } },
          },
          y: {
            type: "linear",
            min: -4,
            max: 5,
            afterBuildTicks: (s: any) => { s.ticks = yTicks.map((v) => ({ value: v })); },
            afterFit: (s: any) => { s.width = Y_AXIS_W; },
            ticks: { font: { size: 18 }, color: "#000", padding: 4, autoSkip: false, callback: (_v: any, i: number) => spec.yL[i] },
            grid: { display: true, drawOnChartArea: false, drawTicks: true, tickLength: 5.5, color: "#222", tickColor: "#222", lineWidth: 1.2, tickWidth: 1.2 },
            border: { display: false },
            title: { display: spec.yTitle, text: "Volume (z-score)", font: { size: 20.5 }, color: "#000", padding: { top: 8.4, bottom: 0 } },
          },
        },
      },
      plugins: [decor],
    } as any);
    return () => chart.destroy();
  }, []);

  return (
    <canvas
      ref={ref}
      width={w}
      height={h}
      style={{ position: "absolute", left: spec.left - Y_AXIS_W, top: spec.top - PAD_TOP, width: w, height: h }}
    />
  );
}

export default function App() {
  return (
    <div style={{ position: "absolute", left: 0, top: 0, width: 1825, height: 960, overflow: "hidden", background: "#fff" }}>
      {panels.map((p) => (
        <Panel key={p.title} spec={p} />
      ))}
    </div>
  );
}
